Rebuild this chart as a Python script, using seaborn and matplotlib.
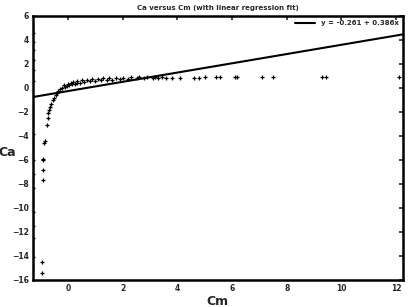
import numpy as np
import pandas as pd
import seaborn as sns
import matplotlib
matplotlib.use('Agg')
import matplotlib.pyplot as plt

# values
cm_curve = [-0.95, -0.93, -0.91, -0.91, -0.91, -0.90, -0.88, -0.85, -0.77, -0.74,
            -0.73, -0.70, -0.66, -0.60, -0.55, -0.50, -0.45, -0.40, -0.35, -0.29,
            -0.20, -0.10, -0.04, 0.05, 0.15, 0.25, 0.33, 0.45, 0.60, 0.80,
            1.00, 1.20, 1.42, 1.60, 1.90, 2.20, 2.52, 2.80, 3.10, 3.30,
            3.60, 3.80, 4.10, 4.60, 4.80, 5.00, 5.40, 5.55, 6.10, 6.20,
            7.10, 7.50, 9.30, 9.45, 12.10]
ca_curve = [-15.4, -14.5, -7.7, -6.8, -6.0, -5.9, -4.6, -4.4, -3.1, -2.5,
            -2.1, -1.8, -1.6, -1.3, -1.0, -0.8, -0.6, -0.4, -0.25, -0.1,
            0.0, 0.1, 0.17, 0.22, 0.30, 0.35, 0.40, 0.45, 0.50, 0.55,
            0.60, 0.63, 0.67, 0.70, 0.73, 0.76, 0.80, 0.81, 0.83, 0.84,
            0.85, 0.86, 0.86, 0.87, 0.87, 0.88, 0.88, 0.88, 0.89, 0.89,
            0.89, 0.90, 0.90, 0.90, 0.95]

# thicker band of the curve
cm_band = [-0.15, 0.0, 0.1, 0.2, 0.35, 0.5, 0.7, 0.9, 1.1, 1.3, 1.5, 1.75, 2.0, 2.3, 2.6, 2.9, 3.2, 3.45]
ca_band = [0.25, 0.35, 0.45, 0.5, 0.58, 0.64, 0.7, 0.74, 0.77, 0.8, 0.83, 0.85, 0.87, 0.88, 0.9, 0.91, 0.92, 0.93]

# points hugging the left border
cm_edge = [-1.26, -1.26, -1.26, -1.26, -1.26, -1.26, -1.26, -1.26, -1.26, -1.26, -1.26, -1.26, -1.26, -1.26]
ca_edge = [4.6, 3.8, 3.2, 2.3, 1.5, 0.6, -3.8, -6.0, -7.2, -8.3, -10.3, -11.5, -12.5, -14.1]

fit_intercept = -0.261
fit_slope = 0.386
fit_label = 'y = -0.261 + 0.386x'
x_fit = [-1.28, 12.25]

cm = cm_curve + cm_band + cm_edge
ca = ca_curve + ca_band + ca_edge
df = pd.DataFrame({'Cm': cm, 'Ca': ca})
fit = pd.DataFrame({'Cm': x_fit, 'Ca': [fit_intercept + fit_slope * v for v in x_fit]})

sns.set_style('white')
plt.rcParams['font.family'] = ['DejaVu Sans']

fig = plt.figure(figsize=(4.1, 3.07), dpi=100)
ax = fig.add_axes([0.080, 0.088, 0.903, 0.860])

sns.scatterplot(x='Cm', y='Ca', data=df, marker='+', color='black', s=12, linewidth=0.9, ax=ax, legend=False)
sns.lineplot(x='Cm', y='Ca', data=fit, color='black', linewidth=1.5, ax=ax, label=fit_label)

ax.set_xlim(-1.28, 12.25)
ax.set_ylim(-16, 6)
ax.set_xticks(range(0, 13, 2))
ax.set_yticks(range(-16, 7, 2))
ax.tick_params(direction='in', length=3, width=1.2, labelsize=5.5, top=True, right=True, pad=3)
for lab in ax.get_xticklabels() + ax.get_yticklabels():
    lab.set_fontweight('bold')
for sp in ax.spines.values():
    sp.set_linewidth(1.8)
    sp.set_color('black')

ax.set_xlabel('Cm', fontsize=9, fontweight='bold')
ax.xaxis.set_label_coords(0.5, -0.055)
ax.set_ylabel('Ca', fontsize=9, fontweight='bold', rotation=0)
ax.yaxis.set_label_coords(-0.068, 0.46)
ax.set_title('Ca versus Cm (with linear regression fit)', fontsize=5, fontweight='bold', pad=4)

ax.legend(loc='upper right', frameon=False, handlelength=3, borderaxespad=0.2,
          prop={'size': 5, 'weight': 'bold'})

fig.savefig('out.png', dpi=100)
